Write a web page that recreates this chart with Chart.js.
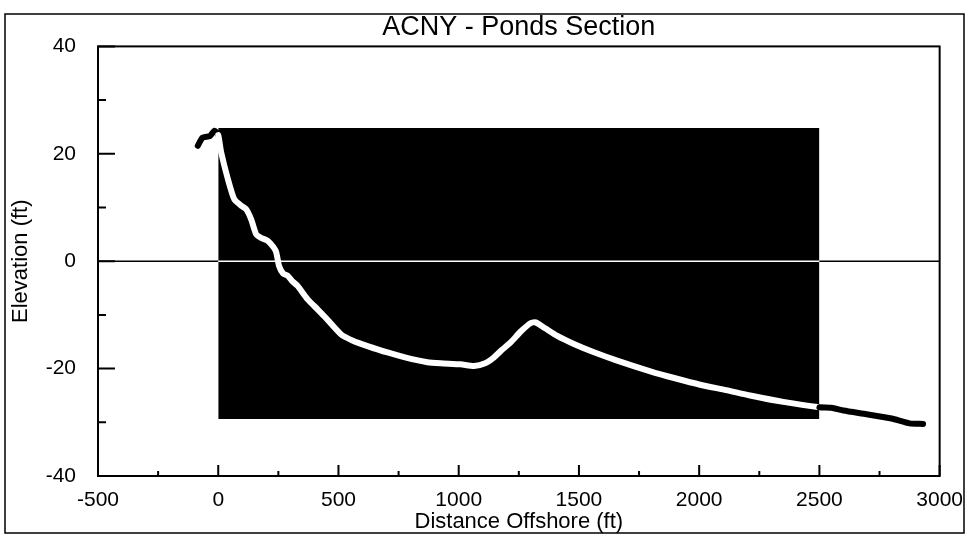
<!DOCTYPE html>
<html>
<head>
<meta charset="utf-8">
<script src="https://cdn.jsdelivr.net/npm/chart.js@4/dist/chart.umd.min.js"></script>
<style>
  body { margin: 0; background: #fff; }
  canvas { display: block; }
</style>
</head>
<body>
<canvas id="profileChart" width="967" height="540"></canvas>
<script>
// Beach profile (distance ft, elevation ft)
const profileX = [-85, -65, -35, -15, 0, 12, 40, 67, 100, 116, 137, 158, 180, 206, 230, 241, 253, 270, 289, 310, 330, 372, 414, 440, 510, 560, 621, 704, 801, 870, 925, 1008, 1064, 1110, 1147, 1180, 1216, 1260, 1300, 1320, 1360, 1410, 1479, 1560, 1659, 1797, 1900, 2004, 2112, 2212, 2350, 2500, 2550, 2600, 2696, 2800, 2875, 2931];
const profileY = [21.5, 23, 23.3, 24.3, 23.5, 20.3, 15.3, 11.5, 10.2, 9.7, 7.8, 5, 4.3, 3.8, 2.6, 1.7, -0.9, -2.3, -2.7, -3.8, -4.6, -7.1, -9.0, -10.2, -13.6, -14.8, -15.8, -17, -18.2, -18.8, -19, -19.2, -19.5, -19, -17.9, -16.5, -15.1, -13, -11.5, -11.4, -12.5, -13.9, -15.4, -16.9, -18.5, -20.5, -21.8, -23, -24, -25, -26.2, -27.2, -27.3, -27.8, -28.5, -29.3, -30.2, -30.3];

// shaded window
const shadeX = [0, 2500];
const shadeTop = 24.8;
const shadeBottom = -29.4;

// zero reference line
const zeroX = [-500, 0, 2500, 3000];

const xTicksMajor = 500;
const yTicksMajor = 20;

const FONT = '"Liberation Sans", Arial, sans-serif';

const inShade = ctx => ctx.p0.parsed.x >= shadeX[0] && ctx.p1.parsed.x <= shadeX[1];

// inward tick marks, plot box and outer frame
const framePlugin = {
    id: 'frame',
    afterDraw(chart) {
        const c = chart.ctx;
        const a = chart.chartArea;
        const xs = chart.scales.x, ys = chart.scales.y;
        c.save();
        c.strokeStyle = '#000';
        c.lineWidth = 2;
        c.strokeRect(a.left, a.top, a.right - a.left, a.bottom - a.top);
        c.beginPath();
        xs.ticks.forEach(t => {
            const px = xs.getPixelForValue(t.value);
            const len = t.value % xTicksMajor === 0 ? 11 : 5;
            c.moveTo(px, a.bottom);
            c.lineTo(px, a.bottom - len);
        });
        ys.ticks.forEach(t => {
            const py = ys.getPixelForValue(t.value);
            const len = t.value % yTicksMajor === 0 ? 17 : 8;
            c.moveTo(a.left, py);
            c.lineTo(a.left + len, py);
        });
        c.stroke();
        c.lineWidth = 1.5;
        c.strokeRect(5, 14, 959, 519);
        c.restore();
    }
};

new Chart(document.getElementById('profileChart'), {
    type: 'scatter',
    data: {
        datasets: [{
            label: 'Profile',
            data: profileX.map((x, i) => ({ x, y: profileY[i] })),
            showLine: true,
            borderWidth: 6,
            borderColor: '#000',
            segment: { borderColor: ctx => inShade(ctx) ? '#fff' : '#000' },
            pointRadius: 0,
            tension: 0.2,
            borderCapStyle: 'round',
            borderJoinStyle: 'round',
            order: 0
        }, {
            label: 'Zero',
            data: zeroX.map(x => ({ x, y: 0 })),
            showLine: true,
            borderWidth: 1.5,
            borderColor: '#000',
            segment: { borderColor: ctx => inShade(ctx) ? '#fff' : '#000' },
            pointRadius: 0,
            order: 1
        }, {
            label: 'Shade',
            data: shadeX.map(x => ({ x, y: shadeTop })),
            showLine: true,
            borderWidth: 0,
            backgroundColor: '#000',
            fill: { value: shadeBottom },
            pointRadius: 0,
            order: 2
        }]
    },
    options: {
        responsive: false,
        animation: false,
        layout: { padding: { left: 0, top: 0, right: 27, bottom: 0 } },
        plugins: {
            legend: { display: false },
            tooltip: { enabled: false },
            title: {
                display: true,
                text: 'ACNY - Ponds Section',
                color: '#000',
                fullSize: false,
                font: { family: FONT, size: 27, weight: 'normal', lineHeight: 1.2 },
                padding: { top: 11, bottom: 3 }
            }
        },
        scales: {
            x: {
                type: 'linear',
                min: -500,
                max: 3000,
                grid: { display: false },
                border: { display: false },
                ticks: {
                    stepSize: 250,
                    autoSkip: false,
                    maxRotation: 0,
                    color: '#000',
                    padding: 4,
                    font: { family: FONT, size: 21 },
                    callback: v => (v % xTicksMajor === 0 ? String(v) : '')
                },
                title: {
                    display: true,
                    text: 'Distance Offshore (ft)',
                    color: '#000',
                    font: { family: FONT, size: 22 },
                    padding: { top: 0, bottom: 5 }
                },
                afterFit: s => { s.height = 64; }
            },
            y: {
                type: 'linear',
                min: -40,
                max: 40,
                grid: { display: false },
                border: { display: false },
                ticks: {
                    stepSize: 10,
                    autoSkip: false,
                    color: '#000',
                    padding: 14,
                    font: { family: FONT, size: 21 },
                    callback: v => (v % yTicksMajor === 0 ? String(v) : '')
                },
                title: {
                    display: true,
                    text: 'Elevation (ft)',
                    color: '#000',
                    font: { family: FONT, size: 22 },
                    padding: { top: 8, bottom: 0 }
                },
                afterFit: s => { s.width = 98; }
            }
        }
    },
    plugins: [framePlugin]
});
</script>
</body>
</html>
